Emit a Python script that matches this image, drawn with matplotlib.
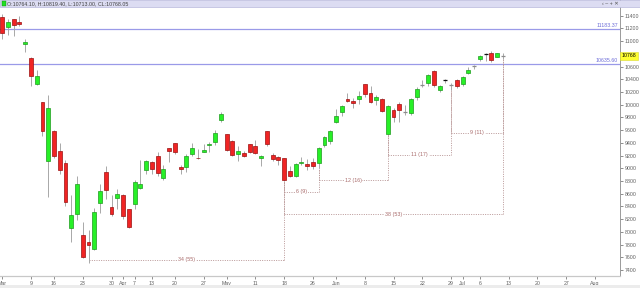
import matplotlib

matplotlib.use("Agg")
import matplotlib.pyplot as plt
import numpy as np
import pandas as pd
from matplotlib.patches import Rectangle

plt.rcParams["font.family"] = ["Liberation Sans", "DejaVu Sans"]

# NSE trading calendar, Mar-Aug 2020
holidays = ["2020-03-10", "2020-04-02", "2020-04-06", "2020-04-10",
            "2020-04-14", "2020-05-01", "2020-05-25"]
days = pd.bdate_range("2020-03-02", "2020-08-07", freq="C", holidays=holidays)

# daily candles, 2 Mar -> 10 Jul 2020
opens = [11387, 11224, 11351, 11306, 10955, 10742, 10330, 10040, 9107, 9587,
         9270, 9088, 8063, 8286, 7945, 7848, 7735, 8451, 8949, 8385,
         8525, 8584, 8356, 8446, 8688, 8973, 9103, 9196, 8854, 9315,
         9390, 9026, 9026, 9232, 9164, 9259, 9370, 9408, 9753, 9533,
         9429, 9227, 9234, 9376, 9349, 9165, 9584, 9213, 9182, 9158,
         8961, 8878, 9085, 9068, 9101, 9082, 9364, 9422, 9726, 9880,
         10082, 10064, 10093, 10326, 10181, 10072, 10094, 9545, 9920, 10014,
         9877, 9864, 10120, 10318, 10347, 10529, 10235, 10383, 10312, 10382,
         10324, 10493, 10614, 10723, 10800, 10818, 10755, 10764.10]
highs = [11433, 11356, 11352, 11401, 11035, 10751, 10545, 10049, 10159, 9602,
         9403, 9127, 8575, 8884, 8159, 8036, 8376, 8749, 9038, 8576,
         8678, 8588, 8356, 8819, 9131, 9128, 9112, 9261, 9053, 9324,
         9391, 9044, 9230, 9390, 9297, 9377, 9420, 9599, 9889, 9533,
         9450, 9346, 9277, 9382, 9440, 9205, 9584, 9233, 9191, 9158,
         9031, 9078, 9178, 9149, 9161, 9334, 9511, 9598, 9931, 9996,
         10177, 10113, 10212, 10329, 10291, 10148, 10112, 9997, 9943, 10046,
         10003, 10111, 10272, 10393, 10484, 10553, 10315, 10405, 10337, 10401,
         10447, 10599, 10631, 10776, 10813, 10847, 10815, 10819.40]
lows = [11036, 11090, 11082, 11244, 10827, 10294, 10310, 9508, 8555, 9165,
        8915, 8407, 7833, 8179, 7583, 7511, 7714, 8304, 8522, 8244,
        8358, 8198, 8055, 8360, 8670, 8904, 8913, 8874, 8821, 9091,
        9219, 8909, 8946, 9196, 9141, 9250, 9260, 9361, 9731, 9266,
        9190, 9116, 9175, 9238, 9219, 9043, 9351, 9118, 9051, 8806,
        8866, 8860, 9056, 8969, 8996, 9004, 9332, 9376, 9706, 9824,
        10035, 9944, 10006, 10120, 10022, 9996, 9885, 9544, 9726, 9729,
        9833, 9845, 10072, 10277, 10301, 10281, 10194, 10337, 10224, 10267,
        10299, 10485, 10562, 10695, 10690, 10676, 10750, 10713.00]
closes = [11133, 11303, 11251, 11270, 10989, 10451, 10458, 9590, 9955, 9197,
          8967, 8469, 8263, 8745, 7610, 7801, 8318, 8641, 8660, 8281,
          8598, 8254, 8084, 8792, 8749, 9112, 8994, 8925, 8993, 9267,
          9262, 8981, 9187, 9314, 9154, 9282, 9381, 9553, 9860, 9294,
          9206, 9271, 9199, 9251, 9239, 9197, 9384, 9143, 9137, 8823,
          8879, 9067, 9106, 9039, 9029, 9315, 9490, 9580, 9826, 9979,
          10062, 10029, 10142, 10167, 10047, 10116, 9902, 9973, 9814, 9914,
          9881, 10092, 10244, 10311, 10471, 10305, 10288, 10383, 10314, 10302,
          10430, 10552, 10607, 10764, 10800, 10706, 10813, 10768.05]

# horizontal levels drawn on the chart
levels = [11183.37, 10635.60]

# swing counts: trading days (calendar days)
anno_start = ["2020-03-24", "2020-05-18", "2020-05-27", "2020-06-12", "2020-06-29", "2020-05-18"]
anno_end = ["2020-05-18", "2020-05-27", "2020-06-12", "2020-06-29", "2020-07-10", "2020-07-10"]
anno_level = [7565, 8630, 8815, 9210, 9560, 8280]

UP, UP_EDGE = "#27f027", "#1f9a1f"
DN, DN_EDGE = "#f02424", "#9a1010"
WICK = "#a8a8a8"
ANNO = "#b89696"
ANNO_TXT = "#a86a6a"
LEVEL = "#9a9ae8"
LEVEL_TXT = "#6c6cd8"
AX_TXT = "#606060"

o, h, l, c = (np.array(v, dtype=float) for v in (opens, highs, lows, closes))
n = len(o)
x = np.arange(n)
idx = {d.strftime("%Y-%m-%d"): i for i, d in enumerate(days)}

fig = plt.figure(figsize=(6.4, 2.88), dpi=100)
ax = fig.add_axes([0, 12 / 288, 620 / 640, 276 / 288])
ax.set_xlim(-0.38, 107.35)
ax.set_ylim(7305.6, 11647)

# candles
w = 0.68
ax.vlines(x, l, h, color=WICK, lw=0.7, zorder=2)
doji = np.abs(c - o) < 8
body = ~doji
upm = c >= o
ax.bar(x[body], np.abs(c - o)[body], bottom=np.minimum(o, c)[body], width=w,
       color=np.where(upm, UP, DN)[body], edgecolor=np.where(upm, UP_EDGE, DN_EDGE)[body],
       lw=0.5, zorder=3)
for i in x[doji]:
    ax.hlines(c[i], i - w / 2, i + w / 2, color="#111111" if o[i] == c[i] else "#8c8c8c",
              lw=0.9, zorder=3)

# levels
for lv in levels:
    ax.axhline(lv, color=LEVEL, lw=0.9, zorder=1)
    ax.text(107.0, lv + 25, f"{lv:.2f}", ha="right", va="bottom", fontsize=3.8,
            color=LEVEL_TXT, zorder=4)

# swing annotations
dot = (0, (1, 1.4))
for s, e, lv in zip(anno_start, anno_end, anno_level):
    i0, i1 = idx[s], idx[e]
    ax.hlines(lv, i0, i1, color=ANNO, lw=0.7, linestyle=dot, zorder=1)
    for i in (i0, i1):
        if l[i] > lv:
            ax.vlines(i, lv, l[i], color=ANNO, lw=0.7, linestyle=dot, zorder=1)
    ncal = (pd.Timestamp(e) - pd.Timestamp(s)).days
    ax.text((i0 + i1) / 2, lv, f"{i1 - i0} ({ncal})", ha="center", va="center",
            fontsize=3.8, color=ANNO_TXT, zorder=4,
            bbox=dict(boxstyle="square,pad=0.15", fc="white", ec="none"))

# x ticks: month name at first session of month, else first session of week
tick_pos, tick_lab = [], []
for i, d in enumerate(days):
    prev = days[i - 1] if i else None
    if prev is None or d.month != prev.month:
        tick_pos.append(i)
        tick_lab.append(d.strftime("%b"))
    elif d.isocalendar()[1] != prev.isocalendar()[1]:
        tick_pos.append(i)
        tick_lab.append(str(d.day))
ax.set_xticks(tick_pos, tick_lab)

# right price scale; the 10800 label sits under the last-price tag
yt = np.arange(7400, 11600, 200)
ax.yaxis.tick_right()
ax.set_yticks(yt, ["" if v == 10800 else str(v) for v in yt])
ax.tick_params(axis="both", labelsize=3.8, colors=AX_TXT, length=2, width=0.5, pad=1.5)
for side in ("left", "top"):
    ax.spines[side].set_visible(False)
ax.spines["right"].set_color("#9a9a9a")
ax.spines["bottom"].set_color("#c8c8c8")
ax.spines["right"].set_linewidth(0.7)
ax.spines["bottom"].set_linewidth(0.9)

# last price tag
ax.text(1.003, c[-1], f"{c[-1]:.0f}", transform=ax.get_yaxis_transform(), ha="left",
        va="center", fontsize=3.8, color="black", zorder=6, clip_on=False,
        bbox=dict(boxstyle="square,pad=0.35", fc="#ffff30", ec="#d8d830", lw=0.4))

# header bar with last candle values
fig.patches.append(Rectangle((0, 1 - 7 / 288), 1, 7 / 288, transform=fig.transFigure,
                             fc="#dcdcf2", ec="#b8b8dc", lw=0.5, zorder=10))
fig.patches.append(Rectangle((1.5 / 640, 1 - 6 / 288), 4 / 640, 5 / 288, transform=fig.transFigure,
                             fc="#22e022", ec="#118811", lw=0.3, zorder=11))
fig.text(7 / 640, 1 - 3.6 / 288,
         f"O:{o[-1]:.2f}, H:{h[-1]:.2f}, L:{l[-1]:.2f}, CL:{c[-1]:.2f}",
         fontsize=3.8, color="#404040", va="center", ha="left", zorder=12)
fig.text(619 / 640, 1 - 3.6 / 288, "‹ – + ✕", fontsize=3.8, color="#505050",
         va="center", ha="right", zorder=12)

# scrollbar strip
fig.patches.append(Rectangle((0, 0), 1, 3 / 288, transform=fig.transFigure,
                             fc="#ececec", ec="none", zorder=0))

fig.savefig("out.png", dpi=100)
